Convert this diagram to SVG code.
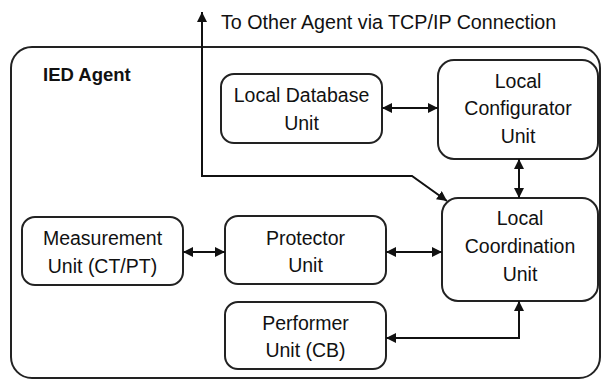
<svg xmlns="http://www.w3.org/2000/svg" width="602" height="379" viewBox="0 0 602 379">
  <defs>
    <marker id="arrow" viewBox="0 0 10 10" refX="10" refY="5" markerWidth="10" markerHeight="10" markerUnits="userSpaceOnUse" orient="auto-start-reverse">
      <path d="M0,0 L10,5 L0,10 z" fill="#111"/>
    </marker>
    <style>
      .box { fill: #fff; stroke: #222; stroke-width: 2; }
      .frame { fill: none; stroke: #222; stroke-width: 2; }
      .lbl { font-family: "Liberation Sans", Arial, sans-serif; font-size: 19.5px; fill: #111; text-anchor: middle; }
      .title { font-family: "Liberation Sans", Arial, sans-serif; font-size: 18.5px; font-weight: bold; fill: #111; }
      .note { font-family: "Liberation Sans", Arial, sans-serif; font-size: 19.7px; fill: #111; }
      .wire { fill: none; stroke: #111; stroke-width: 2; }
    </style>
  </defs>
  <rect width="602" height="379" fill="#fff"/>

  <!-- outer agent frame -->
  <g id="ied-agent">
    <rect class="frame" x="11" y="47" width="589" height="331" rx="21"/>
    <text class="title" x="43" y="81">IED Agent</text>
  </g>

  <text class="note" x="221" y="29">To Other Agent via TCP/IP Connection</text>

  <g id="local-database">
    <rect class="box" x="221" y="74" width="161" height="69" rx="13"/>
    <text class="lbl" x="301.5" y="102">Local Database</text>
    <text class="lbl" x="301.5" y="130">Unit</text>
  </g>

  <g id="local-configurator">
    <rect class="box" x="438" y="60" width="160" height="99" rx="16"/>
    <text class="lbl" x="518" y="88">Local</text>
    <text class="lbl" x="518" y="115">Configurator</text>
    <text class="lbl" x="518" y="143">Unit</text>
  </g>

  <g id="local-coordination">
    <rect class="box" x="442" y="198" width="156" height="103" rx="16"/>
    <text class="lbl" x="520" y="225">Local</text>
    <text class="lbl" x="520" y="253">Coordination</text>
    <text class="lbl" x="520" y="281">Unit</text>
  </g>

  <g id="measurement">
    <rect class="box" x="22" y="217" width="161" height="68" rx="13"/>
    <text class="lbl" x="102.5" y="245">Measurement</text>
    <text class="lbl" x="102.5" y="273">Unit (CT/PT)</text>
  </g>

  <g id="protector">
    <rect class="box" x="225" y="216" width="161" height="68" rx="13"/>
    <text class="lbl" x="305.5" y="245">Protector</text>
    <text class="lbl" x="305.5" y="272">Unit</text>
  </g>

  <g id="performer">
    <rect class="box" x="225" y="302" width="161" height="67" rx="13"/>
    <text class="lbl" x="305.5" y="330">Performer</text>
    <text class="lbl" x="305.5" y="357">Unit (CB)</text>
  </g>

  <g id="connectors">
    <!-- database <-> configurator -->
    <line class="wire" x1="382" y1="108" x2="438" y2="108" marker-start="url(#arrow)" marker-end="url(#arrow)"/>
    <!-- configurator <-> coordination -->
    <line class="wire" x1="519" y1="159" x2="519" y2="198" marker-start="url(#arrow)" marker-end="url(#arrow)"/>
    <!-- measurement <-> protector -->
    <line class="wire" x1="183" y1="252" x2="225" y2="252" marker-start="url(#arrow)" marker-end="url(#arrow)"/>
    <!-- protector <-> coordination -->
    <line class="wire" x1="386" y1="252" x2="442" y2="252" marker-start="url(#arrow)" marker-end="url(#arrow)"/>
    <!-- coordination <-> performer -->
    <polyline class="wire" points="519,301 519,338 386,338" marker-start="url(#arrow)" marker-end="url(#arrow)"/>
    <!-- external TCP/IP link -->
    <polyline class="wire" points="447,201 412,176 202,176 202,12" marker-start="url(#arrow)" marker-end="url(#arrow)"/>
  </g>
</svg>
